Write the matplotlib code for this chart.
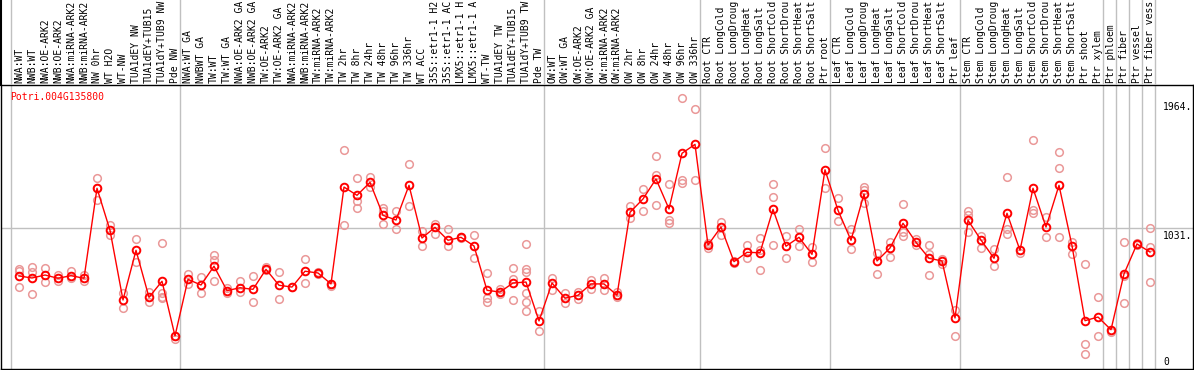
import matplotlib
matplotlib.use('Agg')
import matplotlib.pyplot as plt
from matplotlib.lines import Line2D

# sample labels (truncated to 14 chars like the original page)
labels = ['NWA:WT', 'NWB:WT', 'NWA:OE-ARK2', 'NWB:OE-ARK2', 'NWA:miRNA-ARK2', 'NWB:miRNA-ARK2',
          'NW 0hr', 'WT H2O', 'WT-NW', 'TUA1dEY NW', 'TUA1dEY+TUB15', 'TUA1dY+TUB9 NW', 'Pde NW',
          'NWA:WT GA', 'NWBWT GA', 'TW:WT', 'TW:WT GA', 'NWA:OE-ARK2 GA', 'NWB:OE-ARK2 GA',
          'TW:OE-ARK2', 'TW:OE-ARK2 GA', 'NWA:miRNA-ARK2', 'NWB:miRNA-ARK2', 'TW:miRNA-ARK2',
          'TW:miRNA-ARK2', 'TW 2hr', 'TW 8hr', 'TW 24hr', 'TW 48hr', 'TW 96hr', 'TW 336hr',
          'WT ACC', '35S::etr1-1 H2', '35S::etr1-1 AC', 'LMX5::etr1-1 H', 'LMX5::etr1-1 A',
          'WT-TW', 'TUA1dEY TW', 'TUA1dEY+TUB15', 'TUA1dY+TUB9 TW', 'Pde TW',
          'OW:WT', 'OW:WT GA', 'OW:OE-ARK2', 'OW:OE-ARK2 GA', 'OW:miRNA-ARK2', 'OW:miRNA-ARK2',
          'OW 2hr', 'OW 8hr', 'OW 24hr', 'OW 48hr', 'OW 96hr', 'OW 336hr',
          'Root CTR', 'Root LongCold', 'Root LongDroug', 'Root LongHeat', 'Root LongSalt',
          'Root ShortCold', 'Root ShortDrou', 'Root ShortHeat', 'Root ShortSalt', 'Ptr root',
          'Leaf CTR', 'Leaf LongCold', 'Leaf LongDroug', 'Leaf LongHeat', 'Leaf LongSalt',
          'Leaf ShortCold', 'Leaf ShortDrou', 'Leaf ShortHeat', 'Leaf ShortSalt', 'Ptr leaf',
          'Stem CTR', 'Stem LongCold', 'Stem LongDroug', 'Stem LongHeat', 'Stem LongSalt',
          'Stem ShortCold', 'Stem ShortDrou', 'Stem ShortHeat', 'Stem ShortSalt', 'Ptr shoot',
          'Ptr xylem', 'Ptr phloem', 'Ptr fiber', 'Ptr vessel', 'Ptr fiber vess']

# index where each group starts (gray separators)
group_starts = [0, 13, 41, 53, 63, 73, 84, 85, 86, 87, 88]

# mean expression per sample
means = [676, 661, 683, 659, 678, 659, 1325, 1014, 498, 866, 518, 637, 232,
         651, 609, 748, 567, 589, 577, 725, 607, 594, 711, 698, 617, 1334, 1273, 1369,
         1125, 1090, 1347, 957, 1036, 940, 962, 898, 570, 557, 624, 631, 343,
         624, 511, 533, 617, 617, 533, 1147, 1246, 1394, 1172, 1584, 1650,
         905, 1038, 782, 851, 848, 1169, 896, 962, 836, 1462,
         1162, 940, 1283, 787, 883, 1066, 925, 807, 787, 365,
         1088, 942, 807, 1140, 866, 1325, 1038, 1347, 900, 345, 372,
         278, 691, 913, 853]

# replicate values per sample
reps = [[725, 713, 592], [740, 708, 540], [733, 631], [683, 637], [715, 663], [685, 637],
        [1399, 1329, 1238], [1051, 979], [548, 437], [947, 782], [557, 486],
        [920, 548, 518, 511], [232, 207],
        [691, 617], [666, 548], [831, 794, 637], [585, 548], [639, 555], [674, 481],
        [745, 720], [703, 503], [597], [799, 622], [690, 705], [617, 604],
        [1608, 1051], [1399, 1233, 1177], [1411, 1337], [1177, 1159, 1058], [1157, 1021],
        [1502, 1192], [1011, 896], [1061, 989], [1021, 900], [967, 960], [977, 807],
        [696, 515, 483], [582, 543], [733, 651, 496], [913, 728, 703, 552, 481, 417],
        [419, 267],
        [661, 574], [548, 478], [557, 506], [646, 577], [661, 572], [557, 518],
        [1194, 1103], [1320, 1157], [1562, 1423, 1199], [1354, 1090, 1070],
        [1991, 1386, 1366], [1909, 1386],
        [918, 881], [1078, 977], [775, 790], [905, 811], [957, 868, 718],
        [1354, 1258, 905], [972, 807], [1024, 896], [893, 782], [1621, 1325],
        [1251, 1083], [1024, 876], [1332, 1312, 1214], [848, 688], [925, 816],
        [1206, 1004, 974], [947, 905], [905, 839, 683], [802, 762], [424, 232],
        [1157, 1127, 999], [974, 881], [873, 750], [1406, 1024, 984], [844],
        [1682, 1164, 1140], [1110, 962], [1593, 1473, 962], [925, 839],
        [765, 173, 96], [518, 232], [264], [925, 678, 474], [905, 920], [1029, 893, 631]]

gene = 'Potri.004G135800'
right_ticks = ['1964.', '1031.', '0']

W, H = 1194, 370
fig = plt.figure(figsize=(W / 100, H / 100), dpi=100)

x = list(range(len(means)))
xlo, xhi = (1 - 19) / 13, (1193 - 19) / 13
ylo, yhi = -12.7, 2089.5

ax = fig.add_axes([1 / W, 1 / H, 1192 / W, 284 / H])
ax.set_xlim(xlo, xhi)
ax.set_ylim(ylo, yhi)
ax.set_xticks([])
ax.set_yticks([])
for s in ax.spines.values():
    s.set_linewidth(1.0)
    s.set_color('black')

gray = '#c0c0c0'
for k in group_starts:
    ax.axvline(k - 0.615, color=gray, lw=1.0, zorder=1)
ax.axhline(1031, color=gray, lw=1.0, zorder=1)

# replicates
for i, r in enumerate(reps):
    ax.plot([i] * len(r), r, ls='none', marker='o', ms=5.5, mfc='none',
            mec='#ea9898', mew=1.1, zorder=2)

# mean line
ax.plot(x, means, color='red', lw=1.0, marker='o', ms=5.5, mfc='none',
        mec='red', mew=1.4, zorder=3)

# right side scale labels
mono = 'DejaVu Sans Mono'
ax.text(88.0, 1930, right_ticks[0], family=mono, fontsize=7, ha='left', va='center', zorder=4)
ax.text(88.0, 1031 - 60, right_ticks[1], family=mono, fontsize=7, ha='left', va='center', zorder=4)
ax.text(88.0, 40, right_ticks[2], family=mono, fontsize=7, ha='left', va='center', zorder=4)

fig.text(10 / W, 1 - 100.5 / H, gene, family=mono, fontsize=7, color='red',
         ha='left', va='baseline')

# label strip on top
lab = fig.add_axes([1 / W, 285 / H, 1192 / W, 85 / H])
lab.set_xlim(xlo, xhi)
lab.set_ylim(0, 85)
lab.axis('off')
for k in group_starts:
    lab.axvline(k - 0.615, color=gray, lw=1.0)
lab.add_line(Line2D([xlo, xlo], [0, 85], color='black', lw=1.5, clip_on=False))
for i, name in enumerate(labels):
    lab.text(i, 2, name, family=mono, fontsize=7, rotation=90,
             ha='center', va='bottom')

fig.savefig('out.png', dpi=100)
